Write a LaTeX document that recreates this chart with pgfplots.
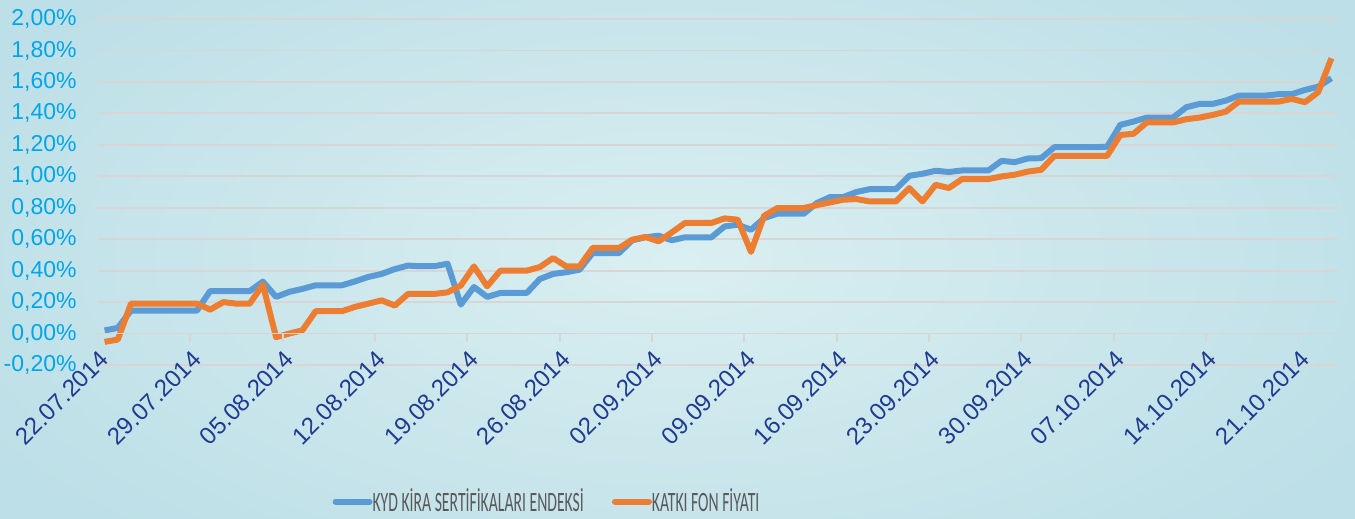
\documentclass[border=0pt]{standalone}
\usepackage{pgfplots}
\pgfplotsset{compat=1.18}
\usepackage{pgfplotstable}
\usepackage{fontspec}
\setmainfont{Liberation Sans}
\newfontfamily\legfont[FakeStretch=0.56]{Carlito}

\definecolor{kydblue}{HTML}{5B9BD5}
\definecolor{katkiorange}{HTML}{ED7D31}
\definecolor{ylab}{HTML}{00A6E8}
\definecolor{xlab}{HTML}{1F3A8F}
\definecolor{gridc}{HTML}{D9D5D5}
\definecolor{legtext}{HTML}{595959}
\definecolor{bgin}{HTML}{DAEFF1}
\definecolor{bgout}{HTML}{BDDFE7}

% d = days after 22.07.2014, values in %
\pgfplotstableread{
d  kyd    katki
0  0.020  -0.053
1  0.036  -0.038
2  0.146  0.190
3  0.146  0.190
4  0.146  0.190
5  0.146  0.190
6  0.146  0.190
7  0.146  0.190
8  0.270  0.152
9  0.270  0.200
10 0.270  0.190
11 0.270  0.190
12 0.330  0.311
13 0.233  -0.023
14 0.265  0.000
15 0.284  0.021
16 0.307  0.142
17 0.307  0.142
18 0.307  0.142
19 0.332  0.170
20 0.360  0.190
21 0.379  0.211
22 0.410  0.178
23 0.432  0.252
24 0.428  0.252
25 0.428  0.252
26 0.444  0.262
27 0.184  0.305
28 0.296  0.427
29 0.233  0.300
30 0.258  0.400
31 0.258  0.400
32 0.258  0.400
33 0.347  0.423
34 0.379  0.480
35 0.390  0.427
36 0.406  0.427
37 0.512  0.544
38 0.512  0.544
39 0.512  0.544
40 0.593  0.597
41 0.612  0.614
42 0.622  0.586
43 0.593  0.643
44 0.612  0.703
45 0.612  0.703
46 0.612  0.703
47 0.681  0.732
48 0.692  0.724
49 0.660  0.519
50 0.734  0.749
51 0.762  0.798
52 0.762  0.798
53 0.762  0.798
54 0.830  0.817
55 0.868  0.834
56 0.868  0.851
57 0.900  0.855
58 0.918  0.840
59 0.918  0.840
60 0.918  0.840
61 1.003  0.925
62 1.016  0.840
63 1.035  0.946
64 1.027  0.925
65 1.037  0.982
66 1.037  0.982
67 1.037  0.982
68 1.098  0.999
69 1.090  1.010
70 1.113  1.030
71 1.115  1.041
72 1.185  1.130
73 1.185  1.130
74 1.185  1.130
75 1.185  1.130
76 1.188  1.130
77 1.327  1.263
78 1.348  1.270
79 1.373  1.342
80 1.373  1.342
81 1.373  1.342
82 1.439  1.363
83 1.460  1.373
84 1.460  1.390
85 1.481  1.411
86 1.513  1.475
87 1.513  1.475
88 1.513  1.475
89 1.522  1.475
90 1.522  1.492
91 1.549  1.471
92 1.570  1.535
93 1.623  1.750
}\endeks

\begin{document}
\begin{tikzpicture}
\useasboundingbox (0,0) rectangle (677.5pt,259.5pt);
\shade[inner color=bgin, outer color=bgout] (-60pt,-60pt) rectangle (737.5pt,319.5pt);
\begin{axis}[
    at={(49pt,77pt)}, anchor=south west,
    scale only axis,
    width=620pt, height=173pt,
    xmin=-0.5, xmax=93.5,
    ymin=-0.2, ymax=2.0,
    axis line style={draw=none},
    major tick length=0pt,
    ymajorgrids,
    grid style={gridc, line width=0.9pt},
    ytick={-0.2,0,0.2,0.4,0.6,0.8,1.0,1.2,1.4,1.6,1.8,2.0},
    /pgf/number format/assume math mode=true,
    yticklabel={\pgfmathprintnumber[fixed,fixed zerofill,precision=2,use comma]{\tick}\%},
    yticklabel style={text=ylab, font=\fontsize{11.5}{13}\selectfont, inner sep=0pt, anchor=east},
    yticklabel shift=10.5pt,
    xtick={0,7,...,91},
    xticklabels={22.07.2014,29.07.2014,05.08.2014,12.08.2014,19.08.2014,26.08.2014,02.09.2014,09.09.2014,16.09.2014,23.09.2014,30.09.2014,07.10.2014,14.10.2014,21.10.2014},
    xticklabel style={rotate=45, anchor=east, inner sep=0pt, text=xlab, font=\fontsize{12}{14}\selectfont},
    xticklabel shift=-5pt,
    legend style={at={(0.184,-0.395)}, anchor=west, draw=none, fill=none,
        legend columns=2, text=legtext, font=\legfont\fontsize{14}{15}\selectfont,
        /tikz/every even column/.append style={column sep=14pt},
        nodes={inner sep=0pt}},
    legend image code/.code={\draw[#1, line width=3pt, line cap=round] (0pt,0pt) -- (17pt,0pt);},
]
\addplot[kydblue, line width=3pt, line join=round] table[x=d, y=kyd] {\endeks};
\addlegendentry{KYD KİRA SERTİFİKALARI ENDEKSİ}
\addplot[katkiorange, line width=3pt, line join=round] table[x=d, y=katki] {\endeks};
\addlegendentry{KATKI FON FİYATI}
% horizontal axis at 0 with its tick marks
\draw[gridc, line width=0.9pt] (axis cs:-0.5,0) -- (axis cs:93.5,0);
\pgfplotsinvokeforeach{0,...,13}{
  \draw[gridc, line width=0.9pt] (axis cs:{7*#1-0.5},0) -- ++(0pt,-4pt);
}
\end{axis}
\end{tikzpicture}
\end{document}
